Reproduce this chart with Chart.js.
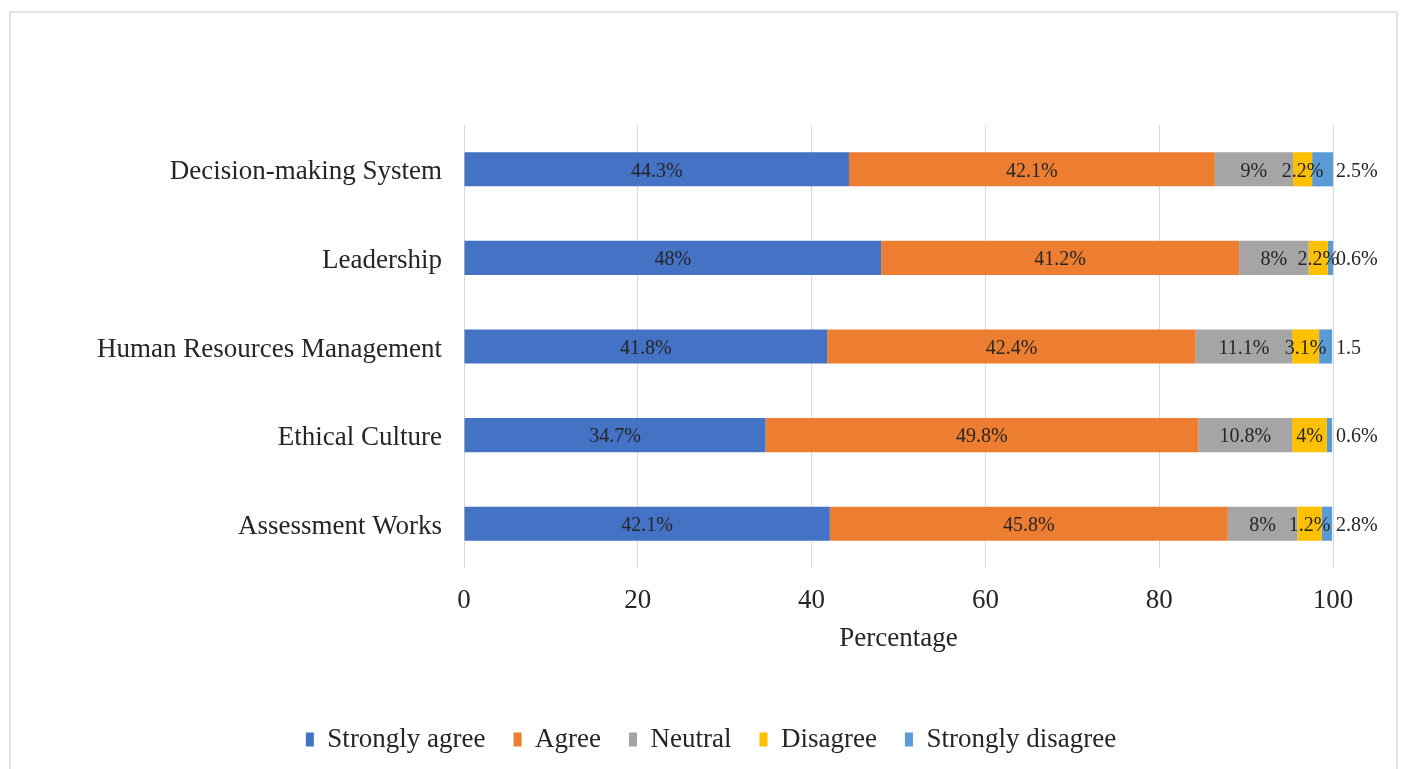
<!DOCTYPE html>
<html>
<head>
<meta charset="utf-8">
<script src="https://cdn.jsdelivr.net/npm/chart.js@4.4.1/dist/chart.umd.min.js"></script>
<style>
  html, body { margin: 0; padding: 0; background: #ffffff; }
  #wrap { position: relative; width: 1404px; height: 769px; overflow: hidden; }
  #frame { position: absolute; left: 9px; top: 11px; width: 1389px; height: 780px; border: 2px solid #e3e3e3; box-sizing: border-box; }
  canvas { position: absolute; left: 0; top: 0; }
</style>
</head>
<body>
<div id="wrap">
  <div id="frame"></div>
  <canvas id="c" width="1404" height="769"></canvas>
</div>
<script>
const categories = ["Decision-making System", "Leadership", "Human Resources Management", "Ethical Culture", "Assessment Works"];
const seriesNames = ["Strongly agree", "Agree", "Neutral", "Disagree", "Strongly disagree"];

const stronglyAgree    = [44.3, 48.0, 41.8, 34.7, 42.1];
const agree            = [42.1, 41.2, 42.4, 49.8, 45.8];
const neutral          = [9.0, 8.0, 11.1, 10.8, 8.0];
const disagree         = [2.2, 2.2, 3.1, 4.0, 2.8];
const stronglyDisagree = [2.5, 0.6, 1.5, 0.6, 1.2];

const stronglyAgreeLabels    = ["44.3%", "48%", "41.8%", "34.7%", "42.1%"];
const agreeLabels            = ["42.1%", "41.2%", "42.4%", "49.8%", "45.8%"];
const neutralLabels          = ["9%", "8%", "11.1%", "10.8%", "8%"];
const disagreeLabels         = ["2.2%", "2.2%", "3.1%", "4%", "1.2%"];
const stronglyDisagreeLabels = ["2.5%", "0.6%", "1.5", "0.6%", "2.8%"];

const xTicks = [0, 20, 40, 60, 80, 100];
const xTitle = "Percentage";

const colors = ["#4472C4", "#ED7D31", "#A5A5A5", "#FFC000", "#5B9BD5"];
const seriesValues = [stronglyAgree, agree, neutral, disagree, stronglyDisagree];
const seriesLabels = [stronglyAgreeLabels, agreeLabels, neutralLabels, disagreeLabels, stronglyDisagreeLabels];

const FONT = "'Liberation Serif', 'Times New Roman', serif";
const TEXT = "#262626";

const labelPlugin = {
  id: "barLabels",
  afterDatasetsDraw(chart) {
    const ctx = chart.ctx;
    ctx.save();
    ctx.font = "20px " + FONT;
    ctx.fillStyle = TEXT;
    ctx.textBaseline = "middle";
    chart.data.datasets.forEach((ds, di) => {
      const meta = chart.getDatasetMeta(di);
      meta.data.forEach((bar, i) => {
        const txt = seriesLabels[di][i];
        const end = Math.min(bar.x, chart.chartArea.right);
        if (di === seriesValues.length - 1) {
          ctx.textAlign = "left";
          ctx.fillText(txt, chart.chartArea.right + 3, bar.y + 2);
        } else {
          ctx.textAlign = "center";
          ctx.fillText(txt, (end + bar.base) / 2, bar.y + 2);
        }
      });
    });
    ctx.restore();
  }
};

new Chart(document.getElementById("c"), {
  type: "bar",
  data: {
    labels: categories,
    datasets: seriesNames.map((name, k) => ({
      label: name,
      data: seriesValues[k],
      backgroundColor: colors[k],
      borderWidth: 0,
      categoryPercentage: 1.0,
      barPercentage: 0.385
    }))
  },
  options: {
    indexAxis: "y",
    responsive: false,
    animation: false,
    layout: { padding: { left: 89, right: 71, top: 125, bottom: 6 } },
    scales: {
      x: {
        stacked: true,
        min: 0,
        max: 100,
        afterBuildTicks(scale) { scale.ticks = xTicks.map(v => ({ value: v })); },
        afterFit(scale) { scale.height = 130; },
        grid: { color: "#d9d9d9", lineWidth: 1, drawTicks: false },
        border: { display: false },
        ticks: { font: { family: FONT, size: 27 }, color: TEXT, padding: 17, maxRotation: 0 },
        title: { display: true, text: xTitle, font: { family: FONT, size: 27 }, color: TEXT, padding: { top: 4, bottom: 43 } }
      },
      y: {
        stacked: true,
        afterFit(scale) { scale.width = 375; },
        grid: { display: false, drawTicks: false },
        border: { display: false },
        ticks: { font: { family: FONT, size: 27 }, color: TEXT, padding: 22, labelOffset: 3 }
      }
    },
    plugins: {
      legend: {
        position: "bottom",
        labels: {
          font: { family: FONT, size: 27 },
          color: TEXT,
          boxWidth: 8,
          boxHeight: 14,
          padding: 28
        }
      },
      tooltip: { enabled: false }
    }
  },
  plugins: [labelPlugin]
});
</script>
</body>
</html>
